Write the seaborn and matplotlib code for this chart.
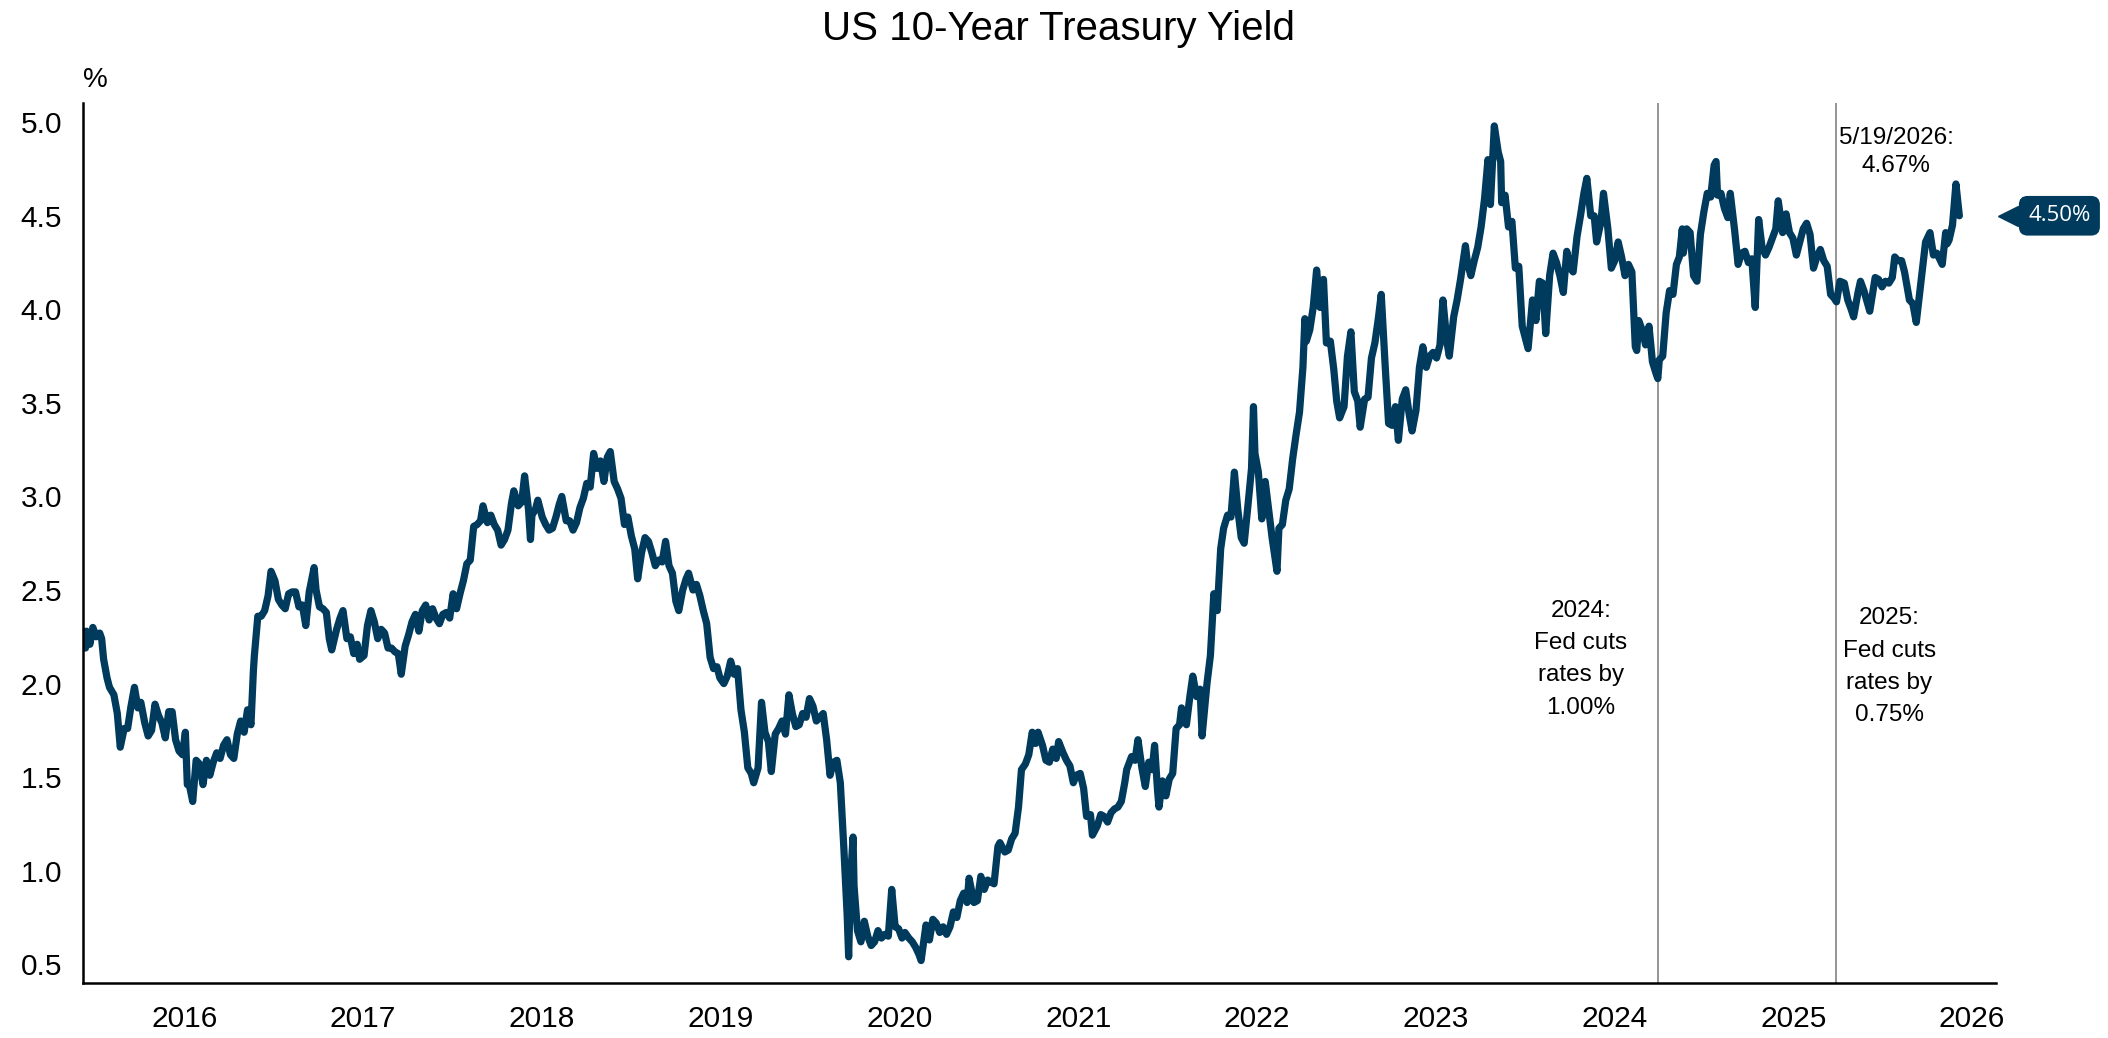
"""
US 10-Year Treasury Yield, weekly closes, with the 2024 and 2025 Fed cut markers.
"""
import pandas as pd
import matplotlib
matplotlib.use("Agg")
import matplotlib.pyplot as plt
import matplotlib.transforms as mtransforms
import seaborn as sns

# ─── Data (weekly-ish closes, %) ───────────────────────────────────────────
dates_2015 = ["2015-11-27", "2015-12-02", "2015-12-04", "2015-12-11", "2015-12-17", "2015-12-24", "2015-12-31"]
yields_2015 = [2.28, 2.19, 2.28, 2.21, 2.30, 2.25, 2.27]

dates_2016 = ["2016-01-04", "2016-01-08", "2016-01-15", "2016-01-20", "2016-01-29", "2016-02-05", "2016-02-11",
              "2016-02-19", "2016-02-26", "2016-03-04", "2016-03-11", "2016-03-18", "2016-03-24", "2016-04-01",
              "2016-04-08", "2016-04-15", "2016-04-22", "2016-04-29", "2016-05-06", "2016-05-13", "2016-05-20",
              "2016-05-27", "2016-06-03", "2016-06-10", "2016-06-17", "2016-06-23", "2016-06-27", "2016-07-01",
              "2016-07-08", "2016-07-15", "2016-07-22", "2016-07-29", "2016-08-05", "2016-08-12", "2016-08-19",
              "2016-08-26", "2016-09-02", "2016-09-09", "2016-09-16", "2016-09-23", "2016-09-30", "2016-10-07",
              "2016-10-14", "2016-10-21", "2016-10-28", "2016-11-04", "2016-11-09", "2016-11-11", "2016-11-18",
              "2016-11-25", "2016-12-02", "2016-12-09", "2016-12-15", "2016-12-23", "2016-12-30"]
yields_2016 = [2.24, 2.13, 2.03, 1.98, 1.94, 1.84, 1.66,
               1.76, 1.76, 1.88, 1.98, 1.87, 1.90, 1.79,
               1.72, 1.75, 1.89, 1.83, 1.79, 1.71, 1.85,
               1.85, 1.70, 1.64, 1.62, 1.74, 1.46, 1.46,
               1.37, 1.59, 1.57, 1.46, 1.59, 1.51, 1.58,
               1.63, 1.60, 1.67, 1.70, 1.62, 1.60, 1.73,
               1.80, 1.74, 1.86, 1.78, 2.07, 2.15, 2.36,
               2.36, 2.39, 2.47, 2.60, 2.55, 2.45]

dates_2017 = ["2017-01-06", "2017-01-13", "2017-01-20", "2017-01-27", "2017-02-03", "2017-02-10", "2017-02-17",
              "2017-02-24", "2017-03-03", "2017-03-13", "2017-03-17", "2017-03-24", "2017-03-31", "2017-04-07",
              "2017-04-13", "2017-04-18", "2017-04-28", "2017-05-05", "2017-05-11", "2017-05-19", "2017-05-26",
              "2017-06-02", "2017-06-09", "2017-06-14", "2017-06-23", "2017-06-30", "2017-07-07", "2017-07-14",
              "2017-07-21", "2017-07-28", "2017-08-04", "2017-08-11", "2017-08-18", "2017-08-25", "2017-09-01",
              "2017-09-07", "2017-09-15", "2017-09-22", "2017-09-29", "2017-10-06", "2017-10-13", "2017-10-20",
              "2017-10-27", "2017-11-03", "2017-11-10", "2017-11-17", "2017-11-24", "2017-12-01", "2017-12-08",
              "2017-12-15", "2017-12-22", "2017-12-29"]
yields_2017 = [2.42, 2.40, 2.48, 2.49, 2.49, 2.41, 2.42,
               2.31, 2.49, 2.62, 2.50, 2.41, 2.40, 2.38,
               2.24, 2.18, 2.29, 2.35, 2.39, 2.24, 2.25,
               2.16, 2.21, 2.13, 2.15, 2.31, 2.39, 2.33,
               2.24, 2.29, 2.27, 2.19, 2.19, 2.17, 2.16,
               2.05, 2.20, 2.26, 2.33, 2.37, 2.28, 2.39,
               2.42, 2.34, 2.40, 2.35, 2.32, 2.37, 2.38,
               2.35, 2.48, 2.40]

dates_2018 = ["2018-01-05", "2018-01-12", "2018-01-19", "2018-01-26", "2018-02-02", "2018-02-09", "2018-02-16",
              "2018-02-21", "2018-03-02", "2018-03-09", "2018-03-16", "2018-03-23", "2018-03-30", "2018-04-06",
              "2018-04-13", "2018-04-20", "2018-04-25", "2018-05-04", "2018-05-11", "2018-05-17", "2018-05-25",
              "2018-05-29", "2018-06-01", "2018-06-08", "2018-06-13", "2018-06-22", "2018-06-29", "2018-07-06",
              "2018-07-13", "2018-07-20", "2018-07-27", "2018-08-01", "2018-08-10", "2018-08-17", "2018-08-24",
              "2018-08-31", "2018-09-07", "2018-09-14", "2018-09-21", "2018-09-28", "2018-10-05", "2018-10-12",
              "2018-10-19", "2018-10-26", "2018-11-02", "2018-11-08", "2018-11-16", "2018-11-23", "2018-11-30",
              "2018-12-07", "2018-12-14", "2018-12-21", "2018-12-28"]
yields_2018 = [2.48, 2.55, 2.64, 2.66, 2.84, 2.85, 2.87,
               2.95, 2.86, 2.90, 2.85, 2.82, 2.74, 2.77,
               2.82, 2.96, 3.03, 2.95, 2.97, 3.11, 2.93,
               2.77, 2.90, 2.93, 2.98, 2.89, 2.85, 2.82,
               2.83, 2.89, 2.96, 3.00, 2.87, 2.87, 2.82,
               2.86, 2.94, 2.99, 3.07, 3.05, 3.23, 3.15,
               3.19, 3.08, 3.21, 3.24, 3.08, 3.04, 2.99,
               2.85, 2.89, 2.79, 2.72]

dates_2019 = ["2019-01-03", "2019-01-11", "2019-01-18", "2019-01-25", "2019-02-01", "2019-02-08", "2019-02-15",
              "2019-02-22", "2019-03-01", "2019-03-08", "2019-03-15", "2019-03-22", "2019-03-28", "2019-04-05",
              "2019-04-12", "2019-04-17", "2019-04-26", "2019-05-03", "2019-05-10", "2019-05-17", "2019-05-24",
              "2019-05-31", "2019-06-07", "2019-06-14", "2019-06-20", "2019-06-28", "2019-07-05", "2019-07-12",
              "2019-07-19", "2019-07-26", "2019-08-02", "2019-08-09", "2019-08-16", "2019-08-23", "2019-08-28",
              "2019-09-06", "2019-09-13", "2019-09-20", "2019-09-27", "2019-10-03", "2019-10-11", "2019-10-18",
              "2019-10-25", "2019-11-01", "2019-11-08", "2019-11-15", "2019-11-22", "2019-11-29", "2019-12-06",
              "2019-12-13", "2019-12-20", "2019-12-27"]
yields_2019 = [2.56, 2.70, 2.78, 2.76, 2.70, 2.63, 2.66,
               2.65, 2.76, 2.63, 2.59, 2.44, 2.39, 2.50,
               2.56, 2.59, 2.50, 2.53, 2.47, 2.39, 2.32,
               2.14, 2.08, 2.09, 2.03, 2.00, 2.04, 2.12,
               2.05, 2.08, 1.86, 1.74, 1.55, 1.52, 1.47,
               1.55, 1.90, 1.74, 1.69, 1.53, 1.73, 1.76,
               1.80, 1.73, 1.94, 1.84, 1.77, 1.78, 1.84,
               1.82, 1.92, 1.88]

dates_2020 = ["2020-01-03", "2020-01-10", "2020-01-17", "2020-01-24", "2020-01-31", "2020-02-07", "2020-02-14",
              "2020-02-21", "2020-02-28", "2020-03-06", "2020-03-09", "2020-03-13", "2020-03-18", "2020-03-20",
              "2020-03-27", "2020-04-03", "2020-04-10", "2020-04-17", "2020-04-24", "2020-05-01", "2020-05-08",
              "2020-05-15", "2020-05-22", "2020-05-29", "2020-06-05", "2020-06-12", "2020-06-19", "2020-06-26",
              "2020-07-02", "2020-07-10", "2020-07-17", "2020-07-24", "2020-07-31", "2020-08-04", "2020-08-14",
              "2020-08-21", "2020-08-28", "2020-09-04", "2020-09-11", "2020-09-18", "2020-09-25", "2020-10-02",
              "2020-10-09", "2020-10-16", "2020-10-23", "2020-10-30", "2020-11-06", "2020-11-10", "2020-11-20",
              "2020-11-27", "2020-12-04", "2020-12-11", "2020-12-18", "2020-12-24", "2020-12-31"]
yields_2020 = [1.80, 1.82, 1.84, 1.70, 1.51, 1.58, 1.59,
               1.47, 1.13, 0.76, 0.54, 0.96, 1.18, 0.92,
               0.68, 0.62, 0.73, 0.65, 0.60, 0.62, 0.68,
               0.64, 0.66, 0.65, 0.90, 0.70, 0.69, 0.64,
               0.67, 0.64, 0.62, 0.59, 0.55, 0.52, 0.71,
               0.63, 0.74, 0.72, 0.67, 0.70, 0.66, 0.70,
               0.78, 0.75, 0.84, 0.88, 0.83, 0.96, 0.83,
               0.84, 0.97, 0.90, 0.95, 0.94, 0.93]

dates_2021 = ["2021-01-08", "2021-01-12", "2021-01-22", "2021-01-29", "2021-02-05", "2021-02-12", "2021-02-19",
              "2021-02-25", "2021-03-05", "2021-03-12", "2021-03-19", "2021-03-26", "2021-03-31", "2021-04-09",
              "2021-04-16", "2021-04-23", "2021-04-30", "2021-05-07", "2021-05-12", "2021-05-21", "2021-05-28",
              "2021-06-04", "2021-06-11", "2021-06-17", "2021-06-25", "2021-07-02", "2021-07-08", "2021-07-16",
              "2021-07-20", "2021-07-30", "2021-08-06", "2021-08-13", "2021-08-20", "2021-08-27", "2021-09-03",
              "2021-09-10", "2021-09-17", "2021-09-24", "2021-09-28", "2021-10-08", "2021-10-15", "2021-10-21",
              "2021-10-29", "2021-11-05", "2021-11-12", "2021-11-19", "2021-11-24", "2021-11-30", "2021-12-03",
              "2021-12-10", "2021-12-17", "2021-12-24", "2021-12-31"]
yields_2021 = [1.13, 1.15, 1.10, 1.11, 1.17, 1.20, 1.34,
               1.54, 1.57, 1.62, 1.74, 1.68, 1.74, 1.67,
               1.59, 1.58, 1.65, 1.60, 1.69, 1.63, 1.59,
               1.56, 1.47, 1.51, 1.52, 1.44, 1.29, 1.30,
               1.19, 1.24, 1.30, 1.29, 1.26, 1.31, 1.33,
               1.34, 1.37, 1.47, 1.54, 1.61, 1.59, 1.70,
               1.55, 1.45, 1.58, 1.54, 1.67, 1.43, 1.34,
               1.48, 1.40, 1.49, 1.52]

dates_2022 = ["2022-01-07", "2022-01-14", "2022-01-18", "2022-01-28", "2022-02-04", "2022-02-10", "2022-02-18",
              "2022-02-25", "2022-03-01", "2022-03-11", "2022-03-18", "2022-03-25", "2022-04-01", "2022-04-08",
              "2022-04-14", "2022-04-22", "2022-04-29", "2022-05-06", "2022-05-13", "2022-05-20", "2022-05-26",
              "2022-06-03", "2022-06-10", "2022-06-14", "2022-06-17", "2022-06-24", "2022-07-01", "2022-07-08",
              "2022-07-15", "2022-07-22", "2022-08-01", "2022-08-05", "2022-08-12", "2022-08-19", "2022-08-26",
              "2022-09-02", "2022-09-09", "2022-09-16", "2022-09-23", "2022-09-27", "2022-09-30", "2022-10-07",
              "2022-10-14", "2022-10-21", "2022-10-28", "2022-11-04", "2022-11-10", "2022-11-18", "2022-11-25",
              "2022-12-01", "2022-12-07", "2022-12-16", "2022-12-23", "2022-12-30"]
yields_2022 = [1.76, 1.78, 1.87, 1.78, 1.93, 2.04, 1.93,
               1.97, 1.72, 2.00, 2.15, 2.48, 2.39, 2.72,
               2.83, 2.90, 2.89, 3.13, 2.93, 2.78, 2.75,
               2.96, 3.15, 3.48, 3.23, 3.13, 2.88, 3.08,
               2.93, 2.78, 2.60, 2.83, 2.85, 2.98, 3.04,
               3.20, 3.33, 3.45, 3.69, 3.95, 3.83, 3.89,
               4.01, 4.21, 4.01, 4.16, 3.82, 3.83, 3.68,
               3.51, 3.42, 3.48, 3.75, 3.88]

dates_2023 = ["2023-01-06", "2023-01-13", "2023-01-18", "2023-01-27", "2023-02-03", "2023-02-10", "2023-02-17",
              "2023-02-24", "2023-03-02", "2023-03-10", "2023-03-17", "2023-03-24", "2023-03-31", "2023-04-06",
              "2023-04-14", "2023-04-21", "2023-04-28", "2023-05-04", "2023-05-12", "2023-05-19", "2023-05-26",
              "2023-06-02", "2023-06-09", "2023-06-16", "2023-06-23", "2023-06-30", "2023-07-06", "2023-07-14",
              "2023-07-19", "2023-07-28", "2023-08-04", "2023-08-11", "2023-08-21", "2023-08-25", "2023-09-01",
              "2023-09-08", "2023-09-15", "2023-09-22", "2023-09-29", "2023-10-06", "2023-10-11", "2023-10-19",
              "2023-10-27", "2023-11-01", "2023-11-03", "2023-11-10", "2023-11-17", "2023-11-24", "2023-12-01",
              "2023-12-08", "2023-12-15", "2023-12-27"]
yields_2023 = [3.56, 3.51, 3.37, 3.52, 3.53, 3.74, 3.82,
               3.95, 4.08, 3.70, 3.39, 3.38, 3.48, 3.30,
               3.52, 3.57, 3.44, 3.35, 3.46, 3.69, 3.80,
               3.69, 3.75, 3.77, 3.74, 3.81, 4.05, 3.83,
               3.75, 3.96, 4.05, 4.16, 4.34, 4.25, 4.18,
               4.26, 4.33, 4.44, 4.59, 4.80, 4.56, 4.98,
               4.84, 4.79, 4.57, 4.61, 4.44, 4.47, 4.22,
               4.23, 3.91, 3.79]

dates_2024 = ["2024-01-05", "2024-01-12", "2024-01-19", "2024-01-26", "2024-02-01", "2024-02-09", "2024-02-16",
              "2024-02-23", "2024-03-01", "2024-03-08", "2024-03-15", "2024-03-22", "2024-03-28", "2024-04-05",
              "2024-04-12", "2024-04-19", "2024-04-25", "2024-05-03", "2024-05-10", "2024-05-15", "2024-05-24",
              "2024-05-29", "2024-06-07", "2024-06-14", "2024-06-21", "2024-06-28", "2024-07-05", "2024-07-12",
              "2024-07-19", "2024-07-26", "2024-08-02", "2024-08-05", "2024-08-09", "2024-08-16", "2024-08-23",
              "2024-08-30", "2024-09-06", "2024-09-13", "2024-09-17", "2024-09-20", "2024-09-27", "2024-10-04",
              "2024-10-11", "2024-10-18", "2024-10-25", "2024-10-31", "2024-11-06", "2024-11-08", "2024-11-15",
              "2024-11-22", "2024-11-29", "2024-12-06", "2024-12-13", "2024-12-20", "2024-12-27"]
yields_2024 = [4.05, 3.94, 4.15, 4.14, 3.87, 4.18, 4.30,
               4.25, 4.18, 4.09, 4.31, 4.22, 4.20, 4.39,
               4.50, 4.62, 4.70, 4.50, 4.50, 4.36, 4.47,
               4.62, 4.43, 4.22, 4.26, 4.36, 4.28, 4.18,
               4.24, 4.20, 3.80, 3.78, 3.94, 3.89, 3.81,
               3.91, 3.72, 3.66, 3.63, 3.73, 3.75, 3.98,
               4.10, 4.08, 4.24, 4.28, 4.43, 4.30, 4.43,
               4.41, 4.18, 4.15, 4.40, 4.52, 4.62]

dates_2025 = ["2025-01-03", "2025-01-10", "2025-01-14", "2025-01-17", "2025-01-24", "2025-01-31", "2025-02-07",
              "2025-02-12", "2025-02-21", "2025-02-28", "2025-03-07", "2025-03-14", "2025-03-21", "2025-03-28",
              "2025-04-04", "2025-04-11", "2025-04-18", "2025-04-25", "2025-05-02", "2025-05-09", "2025-05-16",
              "2025-05-21", "2025-05-30", "2025-06-06", "2025-06-13", "2025-06-20", "2025-06-27", "2025-07-03",
              "2025-07-11", "2025-07-18", "2025-07-25", "2025-08-01", "2025-08-08", "2025-08-15", "2025-08-22",
              "2025-08-29", "2025-09-05", "2025-09-12", "2025-09-17", "2025-09-24", "2025-10-03", "2025-10-10",
              "2025-10-17", "2025-10-22", "2025-10-31", "2025-11-05", "2025-11-12", "2025-11-24", "2025-12-05",
              "2025-12-12", "2025-12-19", "2025-12-26"]
yields_2025 = [4.60, 4.77, 4.79, 4.61, 4.62, 4.54, 4.49,
               4.62, 4.42, 4.24, 4.30, 4.31, 4.25, 4.27,
               4.01, 4.48, 4.33, 4.29, 4.33, 4.38, 4.43,
               4.58, 4.41, 4.51, 4.41, 4.38, 4.29, 4.35,
               4.43, 4.46, 4.40, 4.22, 4.28, 4.32, 4.26,
               4.23, 4.08, 4.06, 4.04, 4.15, 4.14, 4.05,
               4.00, 3.96, 4.09, 4.15, 4.10, 3.99, 4.17,
               4.16, 4.12, 4.15]

dates_2026 = ["2026-01-02", "2026-01-09", "2026-01-14", "2026-01-21", "2026-01-28", "2026-02-03", "2026-02-13",
              "2026-02-20", "2026-02-27", "2026-03-06", "2026-03-13", "2026-03-18", "2026-03-27", "2026-04-03",
              "2026-04-10", "2026-04-21", "2026-04-28", "2026-05-01", "2026-05-05", "2026-05-12", "2026-05-19",
              "2026-05-26"]
yields_2026 = [4.14, 4.17, 4.28, 4.26, 4.26, 4.20, 4.05,
               4.03, 3.93, 4.09, 4.25, 4.36, 4.41, 4.29,
               4.30, 4.24, 4.41, 4.35, 4.37, 4.45, 4.67,
               4.50]

year_labels = [str(y) for y in range(2016, 2027)]
y_ticks = [0.5, 1.0, 1.5, 2.0, 2.5, 3.0, 3.5, 4.0, 4.5, 5.0]
cut_dates = ["2024-09-18", "2025-09-17"]
cut_notes = ["2024:\nFed cuts\nrates by\n1.00%", "2025:\nFed cuts\nrates by\n0.75%"]
last_note = "5/19/2026:\n4.67%"
last_tag = "4.50%"

NAVY = "#003A5D"

df = pd.DataFrame({
    "date": pd.to_datetime(dates_2015 + dates_2016 + dates_2017 + dates_2018 + dates_2019 + dates_2020
                           + dates_2021 + dates_2022 + dates_2023 + dates_2024 + dates_2025 + dates_2026),
    "yield": (yields_2015 + yields_2016 + yields_2017 + yields_2018 + yields_2019 + yields_2020
              + yields_2021 + yields_2022 + yields_2023 + yields_2024 + yields_2025 + yields_2026),
})

sns.set_style("white")
plt.rcParams["font.family"] = ["Liberation Sans", "DejaVu Sans"]
plt.rcParams["text.color"] = "black"

fig = plt.figure(figsize=(21.08, 10.38), dpi=100)
ax = fig.add_axes([0.0394, 0.0530, 0.9075, 0.8473])

sns.lineplot(data=df, x="date", y="yield", ax=ax, color=NAVY, linewidth=5.2)

# Fed cut markers
for d in cut_dates:
    ax.axvline(pd.Timestamp(d), color="#8C8C8C", linewidth=1.3, zorder=1)

ax.set_xlim(pd.Timestamp("2015-11-27"), pd.Timestamp("2026-08-09"))
ax.set_ylim(0.4, 5.1)

ax.set_xticks([pd.Timestamp(f"{y}-06-21") for y in year_labels])
ax.set_xticklabels(year_labels)
ax.set_yticks(y_ticks)
ax.set_yticklabels([f"{v:.1f}" for v in y_ticks])
ax.tick_params(axis="both", length=0, labelsize=21.5, colors="black")
ax.tick_params(axis="y", pad=15)
ax.tick_params(axis="x", pad=16)
ax.set_xlabel("")
ax.set_ylabel("")

sns.despine(ax=ax)
for side in ("left", "bottom"):
    ax.spines[side].set_color("black")
    ax.spines[side].set_linewidth(1.8)

# Annotations
ax.text(pd.Timestamp("2024-04-13"), 2.13, cut_notes[0], ha="center", va="center",
        fontsize=17.5, linespacing=1.6)
ax.text(pd.Timestamp("2026-01-03"), 2.09, cut_notes[1], ha="center", va="center",
        fontsize=17.5, linespacing=1.6)
ax.text(pd.Timestamp("2026-01-17"), 4.84, last_note, ha="center", va="center",
        fontsize=17.5, linespacing=1.35)

# Unit label above the y axis
ax.text(0.0, 1.012, "%", transform=ax.transAxes, ha="left", va="bottom", fontsize=20)

# Last value tag on the right edge
trans = mtransforms.blended_transform_factory(ax.transAxes, ax.transData)
ax.plot([1.0063], [4.50], marker="<", markersize=14.5, color=NAVY,
        transform=trans, clip_on=False, linestyle="none")
ax.text(1.0331, 4.50, last_tag, transform=trans, ha="center", va="center",
        fontsize=16, color="white", family=["Open Sans", "DejaVu Sans"],
        bbox=dict(boxstyle="round,pad=0.42,rounding_size=0.4", fc=NAVY, ec="none"),
        clip_on=False)

fig.text(0.502, 0.972, "US 10-Year Treasury Yield", ha="center", va="center", fontsize=29)

fig.savefig("out.png", dpi=100)
